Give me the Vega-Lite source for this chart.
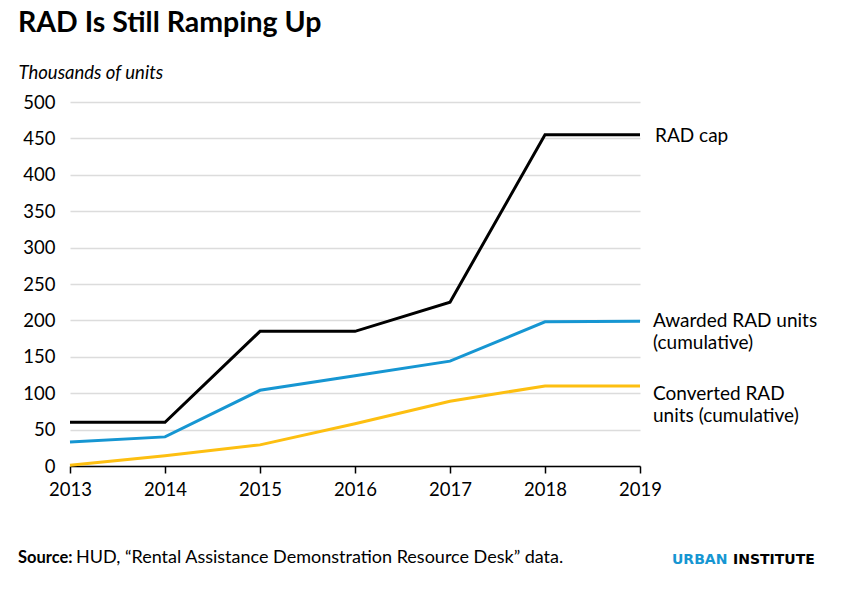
{
  "$schema": "https://vega.github.io/schema/vega-lite/v6.json",
  "width": 570,
  "height": 364,
  "autosize": {"type": "none"},
  "padding": {"left": 70, "top": 102, "right": 208, "bottom": 127},
  "background": "white",
  "title": {
    "text": "RAD Is Still Ramping Up",
    "anchor": "start",
    "frame": "group",
    "dx": -52,
    "offset": 3,
    "baseline": "alphabetic",
    "font": "Lato",
    "fontSize": 28.5,
    "fontWeight": "bold",
    "color": "#000000"
  },
  "config": {
    "view": {"stroke": null},
    "font": "Lato",
    "text": {"font": "Lato"}
  },
  "data": {
    "values": [
      {"year": 2013, "series": "RAD cap", "value": 60},
      {"year": 2014, "series": "RAD cap", "value": 60},
      {"year": 2015, "series": "RAD cap", "value": 185},
      {"year": 2016, "series": "RAD cap", "value": 185},
      {"year": 2017, "series": "RAD cap", "value": 225},
      {"year": 2018, "series": "RAD cap", "value": 455},
      {"year": 2019, "series": "RAD cap", "value": 455},
      {"year": 2013, "series": "Awarded", "value": 33},
      {"year": 2014, "series": "Awarded", "value": 40},
      {"year": 2015, "series": "Awarded", "value": 104},
      {"year": 2016, "series": "Awarded", "value": 124},
      {"year": 2017, "series": "Awarded", "value": 144},
      {"year": 2018, "series": "Awarded", "value": 198},
      {"year": 2019, "series": "Awarded", "value": 199},
      {"year": 2013, "series": "Converted", "value": 1},
      {"year": 2014, "series": "Converted", "value": 14},
      {"year": 2015, "series": "Converted", "value": 29},
      {"year": 2016, "series": "Converted", "value": 58},
      {"year": 2017, "series": "Converted", "value": 89},
      {"year": 2018, "series": "Converted", "value": 110},
      {"year": 2019, "series": "Converted", "value": 110}
    ]
  },
  "encoding": {
    "x": {
      "field": "year",
      "type": "quantitative",
      "scale": {"domain": [2013, 2019], "nice": false, "zero": false},
      "axis": {
        "values": [2013, 2014, 2015, 2016, 2017, 2018, 2019],
        "format": "d",
        "title": null,
        "grid": false,
        "labelFlush": false,
        "domainColor": "#000000",
        "domainWidth": 1.5,
        "tickColor": "#000000",
        "tickWidth": 1.5,
        "tickSize": 7,
        "labelPadding": 7,
        "labelFont": "Lato",
        "labelFontSize": 18.5,
        "labelColor": "#000000"
      }
    },
    "y": {
      "field": "value",
      "type": "quantitative",
      "scale": {"domain": [0, 500], "nice": false},
      "axis": {
        "values": [0, 50, 100, 150, 200, 250, 300, 350, 400, 450, 500],
        "title": "Thousands of units",
        "titleAngle": 0,
        "titleAlign": "left",
        "titleBaseline": "alphabetic",
        "titleX": -52,
        "titleY": -24,
        "titleFont": "Lato",
        "titleFontStyle": "italic",
        "titleFontWeight": "normal",
        "titleFontSize": 18.5,
        "titleColor": "#000000",
        "domain": false,
        "ticks": false,
        "labelPadding": 15,
        "labelFont": "Lato",
        "labelFontSize": 18.5,
        "labelColor": "#000000",
        "gridColor": "#dcdcdc",
        "gridWidth": 1.5
      }
    }
  },
  "layer": [
    {
      "mark": {"type": "line", "strokeWidth": 3, "clip": false},
      "encoding": {
        "color": {
          "field": "series",
          "type": "nominal",
          "scale": {
            "domain": ["RAD cap", "Awarded", "Converted"],
            "range": ["#000000", "#1696d2", "#fdbf11"]
          },
          "legend": null
        }
      }
    },
    {
      "transform": [{"filter": "datum.year === 2019 && datum.series === 'RAD cap'"}],
      "mark": {"type": "text", "align": "left", "baseline": "middle", "dx": 15, "dy": 1, "fontSize": 19, "color": "#000000"},
      "encoding": {"text": {"value": "RAD cap"}}
    },
    {
      "transform": [{"filter": "datum.year === 2019 && datum.series === 'Awarded'"}],
      "mark": {"type": "text", "align": "left", "baseline": "middle", "dx": 13, "dy": 0, "fontSize": 19, "lineHeight": 22, "color": "#000000"},
      "encoding": {"text": {"value": ["Awarded RAD units", "(cumulative)"]}}
    },
    {
      "transform": [{"filter": "datum.year === 2019 && datum.series === 'Converted'"}],
      "mark": {"type": "text", "align": "left", "baseline": "middle", "dx": 13, "dy": 8, "fontSize": 19, "lineHeight": 22, "color": "#000000"},
      "encoding": {"text": {"value": ["Converted RAD", "units (cumulative)"]}}
    },
    {
      "transform": [{"filter": "datum.year === 2013 && datum.series === 'RAD cap'"}],
      "mark": {"type": "text", "align": "left", "baseline": "middle", "dx": -52, "dy": 92, "fontSize": 16.5, "fontWeight": "bold", "color": "#000000"},
      "encoding": {"y": {"datum": 0}, "text": {"value": "Source:"}}
    },
    {
      "transform": [{"filter": "datum.year === 2013 && datum.series === 'RAD cap'"}],
      "mark": {"type": "text", "align": "left", "baseline": "middle", "dx": 6, "dy": 92, "fontSize": 18, "color": "#000000"},
      "encoding": {"y": {"datum": 0}, "text": {"value": "HUD, “Rental Assistance Demonstration Resource Desk” data."}}
    },
    {
      "transform": [{"filter": "datum.year === 2019 && datum.series === 'RAD cap'"}],
      "mark": {"type": "text", "align": "left", "baseline": "middle", "dx": 32, "dy": 94, "fontSize": 14, "fontWeight": "bold", "font": "DejaVu Sans", "color": "#1696d2"},
      "encoding": {"y": {"datum": 0}, "text": {"value": "URBAN"}}
    },
    {
      "transform": [{"filter": "datum.year === 2019 && datum.series === 'RAD cap'"}],
      "mark": {"type": "text", "align": "left", "baseline": "middle", "dx": 93, "dy": 94, "fontSize": 14, "fontWeight": "bold", "font": "DejaVu Sans", "color": "#000000"},
      "encoding": {"y": {"datum": 0}, "text": {"value": "INSTITUTE"}}
    }
  ]
}
